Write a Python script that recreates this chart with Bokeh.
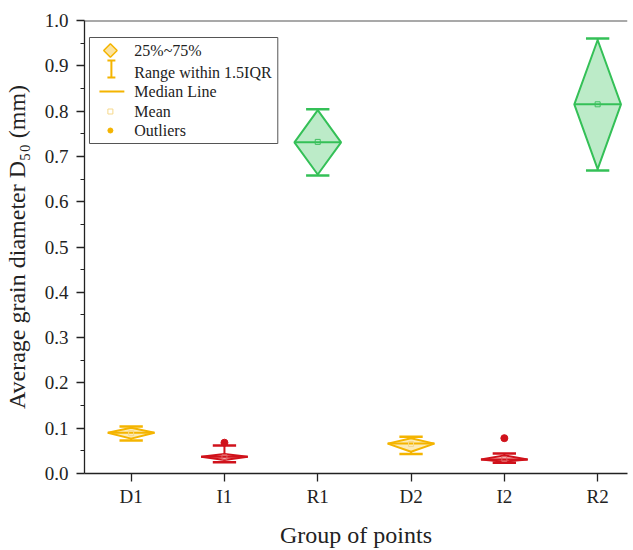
import numpy as np
from bokeh.plotting import figure
from bokeh.models import Range1d, FixedTicker, Span, PrintfTickFormatter
from bokeh.core.properties import value
from bokeh.embed import file_html
from bokeh.resources import INLINE

# ---------------- data ----------------
groups = ["D1", "I1", "R1", "D2", "I2", "R2"]
whisker_low = [0.073, 0.025, 0.658, 0.043, 0.024, 0.669]
q1 = [0.077, 0.030, 0.660, 0.048, 0.026, 0.672]
median = [0.090, 0.037, 0.731, 0.066, 0.031, 0.815]
mean = [0.089, 0.036, 0.732, 0.065, 0.032, 0.815]
q3 = [0.101, 0.043, 0.802, 0.078, 0.040, 0.957]
whisker_high = [0.104, 0.062, 0.804, 0.081, 0.044, 0.960]
outlier_groups = ["I1", "I2"]
outlier_values = [0.068, 0.078]
y_ticks = [0.0, 0.1, 0.2, 0.3, 0.4, 0.5, 0.6, 0.7, 0.8, 0.9, 1.0]
legend_labels = ["25%~75%", "Range within 1.5IQR", "Median Line", "Mean", "Outliers"]

# ---------------- styles ----------------
FONT = "Liberation Serif"
line_colors = {"D": "#F4B400", "I": "#D0121B", "R": "#34C057"}
fill_colors = {"D": "#FCE8AA", "I": "#F2A0A0", "R": "#B0E8BE"}
mean_colors = {"D": "#F6D88A", "I": "#E06060", "R": "#3FBF60"}
HALF_W = 0.25   # half width of a diamond
CAP_W = 0.125   # half width of a whisker cap

lc = [line_colors[g[0]] for g in groups]
fc = [fill_colors[g[0]] for g in groups]
mc = [mean_colors[g[0]] for g in groups]
x = np.arange(1, len(groups) + 1, dtype=float)

W, H = 633, 550
BL, BT, BB, BR = 82, 20, 77, 6
p = figure(width=W, height=H, x_range=Range1d(0.5, 6.32), y_range=Range1d(0.0, 1.0),
           output_backend="svg", toolbar_location=None,
           min_border_left=BL, min_border_right=BR, min_border_top=BT, min_border_bottom=BB)
p.grid.visible = False
p.outline_line_color = None
p.background_fill_color = "white"
p.border_fill_color = "white"

# x axis
xa = p.xaxis[0]
xa.ticker = FixedTicker(ticks=list(x))
xa.major_label_overrides = {int(xi): g for xi, g in zip(x, groups)}
xa.axis_label = "Group of points"
# y axis
ya = p.yaxis[0]
minor = [(a + b) / 2 for a, b in zip(y_ticks[:-1], y_ticks[1:])]
ya.ticker = FixedTicker(ticks=y_ticks, minor_ticks=minor)
ya.formatter = PrintfTickFormatter(format="%.1f")
ya.axis_label = "Average grain diameter D\u2085\u2080 (mm)"

for ax in (xa, ya):
    ax.axis_line_color = "#222222"
    ax.axis_line_width = 1.3
    ax.major_tick_line_color = "#222222"
    ax.major_tick_line_width = 1.3
    ax.major_tick_out = 8
    ax.major_tick_in = 0
    ax.minor_tick_out = 4
    ax.minor_tick_in = 0
    ax.minor_tick_line_color = "#222222"
    ax.major_label_text_font = FONT
    ax.major_label_text_font_size = "19px"
    ax.major_label_text_color = "#222222"
    ax.axis_label_text_font = FONT
    ax.axis_label_text_font_size = "24px"
    ax.axis_label_text_font_style = "normal"
    ax.axis_label_text_color = "#222222"
xa.minor_tick_line_color = None
xa.major_label_standoff = 4
xa.axis_label_standoff = 12
ya.major_label_standoff = 8
ya.axis_label_standoff = 12

# top border of the frame
p.add_layout(Span(location=y_ticks[-1], dimension="width", line_color="#555555", line_width=2))

# ---------------- diamond boxes ----------------
p.segment(x0=x, y0=q3, x1=x, y1=whisker_high, line_color=lc, line_width=2)
p.segment(x0=x, y0=whisker_low, x1=x, y1=q1, line_color=lc, line_width=2)
p.segment(x0=x - CAP_W, y0=whisker_high, x1=x + CAP_W, y1=whisker_high, line_color=lc, line_width=2.5)
p.segment(x0=x - CAP_W, y0=whisker_low, x1=x + CAP_W, y1=whisker_low, line_color=lc, line_width=2.5)

xs = [[xi, xi + HALF_W, xi, xi - HALF_W] for xi in x]
ys = [[a, m, b, m] for a, m, b in zip(q1, median, q3)]
p.patches(xs=xs, ys=ys, fill_color=fc, fill_alpha=0.85, line_color=lc, line_width=2)
p.segment(x0=x - HALF_W, y0=median, x1=x + HALF_W, y1=median, line_color=lc, line_width=2)
p.scatter(x=x, y=mean, marker="square", size=5, fill_color=None, line_color=mc, line_width=1)

ox = [x[groups.index(g)] for g in outlier_groups]
oc = [line_colors[g[0]] for g in outlier_groups]
p.scatter(x=ox, y=outlier_values, marker="circle", size=7, fill_color=oc, line_color=oc)

# ---------------- legend (drawn in frame pixel coordinates) ----------------
FW, FH = W - BL - BR, H - BT - BB
p.extra_x_ranges = {"lg_x": Range1d(0, FW)}
p.extra_y_ranges = {"lg_y": Range1d(FH, 0)}
LG = dict(x_range_name="lg_x", y_range_name="lg_y")
Y = "#F4B400"
p.quad(left=[5], right=[194], top=[17], bottom=[123], fill_color="white",
       line_color="#555555", line_width=1, **LG)
row_y = [30, 52, 71, 91, 110]
icon_x = 26
p.scatter(x=[icon_x], y=[row_y[0]], marker="square", angle=np.pi / 4, size=9.5,
          fill_color="#FBE3A0", line_color=Y, line_width=1.5, **LG)
p.segment(x0=[icon_x + 1], y0=[row_y[1] - 12], x1=[icon_x + 1], y1=[row_y[1] + 5],
          line_color=Y, line_width=2, **LG)
p.segment(x0=[icon_x - 3, icon_x - 3], y0=[row_y[1] - 12, row_y[1] + 5],
          x1=[icon_x + 5, icon_x + 5], y1=[row_y[1] - 12, row_y[1] + 5],
          line_color=Y, line_width=2, **LG)
p.segment(x0=[icon_x - 11], y0=[row_y[2]], x1=[icon_x + 14], y1=[row_y[2]],
          line_color=Y, line_width=2, **LG)
p.scatter(x=[icon_x], y=[row_y[3]], marker="square", size=5, fill_color=None,
          line_color="#F6D88A", line_width=1, **LG)
p.scatter(x=[icon_x], y=[row_y[4]], marker="circle", size=5, fill_color=Y,
          line_color=Y, **LG)
p.text(x=[50] * len(legend_labels), y=row_y, text=legend_labels,
       text_font=value(FONT), text_font_size="16px", text_color="#222222",
       text_baseline="middle", text_align="left", **LG)

open("out.html", "w").write(file_html(p, INLINE))
